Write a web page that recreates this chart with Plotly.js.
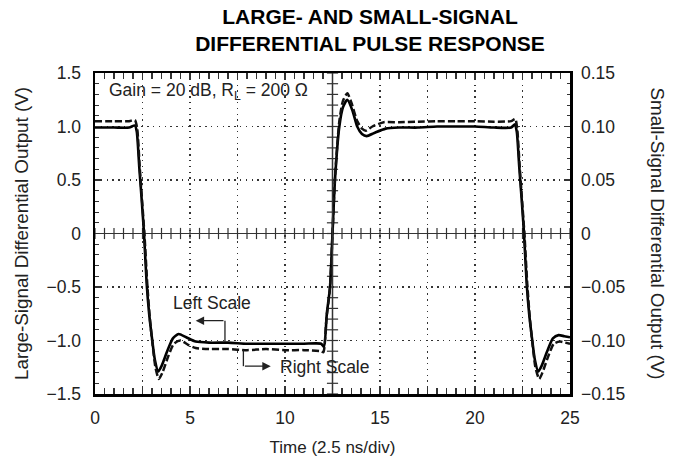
<!DOCTYPE html>
<html>
<head>
<meta charset="utf-8">
<script src="https://cdn.plot.ly/plotly-3.0.1.min.js"></script>
<style>html,body{margin:0;padding:0;background:#fff;}#chart{width:674px;height:460px;}</style>
</head>
<body>
<div id="chart"></div>
<script>
// Large-signal output (left scale, V)
const timeLarge = [0, 1, 1.8, 2.1, 2.2, 2.33, 2.46, 2.58, 2.72, 2.85, 2.98, 3.15, 3.33, 3.5, 3.8, 4.1, 4.4, 4.8, 5.3, 6, 7, 8, 9, 10, 11, 11.9, 12.05, 12.2, 12.37, 12.5, 12.63, 12.86, 13.05, 13.28, 13.55, 13.8, 14.05, 14.3, 14.7, 15.3, 16, 17, 18, 19, 20, 21, 21.9, 22.1, 22.2, 22.33, 22.46, 22.58, 22.72, 22.85, 22.98, 23.15, 23.33, 23.5, 23.8, 24.1, 24.4, 24.7, 25];
const largeSignal = [0.99, 0.99, 0.99, 1.01, 0.95, 0.62, 0.31, 0.0, -0.47, -0.75, -0.95, -1.18, -1.29, -1.24, -1.1, -0.98, -0.94, -0.97, -1.01, -1.02, -1.02, -1.03, -1.03, -1.03, -1.03, -1.03, -1.06, -0.75, -0.5, 0.0, 0.5, 1.0, 1.18, 1.25, 1.15, 1.0, 0.93, 0.91, 0.94, 0.98, 0.99, 0.99, 1.0, 1.0, 1.0, 0.99, 0.99, 1.02, 0.95, 0.62, 0.31, 0.0, -0.47, -0.75, -0.95, -1.18, -1.29, -1.24, -1.1, -0.98, -0.95, -0.96, -0.97];

// Small-signal output (right scale, V)
const timeSmall = [0, 1, 1.8, 2.1, 2.22, 2.35, 2.48, 2.6, 2.75, 2.88, 3.02, 3.18, 3.36, 3.55, 3.85, 4.15, 4.5, 4.9, 5.3, 6, 7, 8, 9, 10, 11, 11.9, 12.02, 12.18, 12.36, 12.5, 12.63, 12.86, 13.05, 13.28, 13.5, 13.8, 14.05, 14.26, 14.6, 15.2, 16, 17, 18, 19, 20, 21, 21.9, 22.12, 22.22, 22.35, 22.48, 22.6, 22.75, 22.88, 23.02, 23.18, 23.38, 23.55, 23.85, 24.15, 24.47, 24.75, 25];
const smallSignal = [0.105, 0.105, 0.105, 0.106, 0.098, 0.063, 0.030, 0.0, -0.047, -0.078, -0.102, -0.125, -0.136, -0.130, -0.115, -0.103, -0.100, -0.104, -0.107, -0.108, -0.108, -0.109, -0.108, -0.109, -0.109, -0.110, -0.111, -0.080, -0.052, 0.0, 0.052, 0.105, 0.124, 0.131, 0.122, 0.105, 0.098, 0.096, 0.100, 0.104, 0.104, 0.1045, 0.105, 0.105, 0.105, 0.1045, 0.105, 0.107, 0.098, 0.063, 0.030, 0.0, -0.047, -0.078, -0.102, -0.125, -0.136, -0.130, -0.115, -0.103, -0.101, -0.102, -0.103];

// Tick labels
const xTickVals = [0, 2.5, 5, 7.5, 10, 12.5, 15, 17.5, 20, 22.5, 25];
const xTickText = ['0', '', '5', '', '10', '', '15', '', '20', '', '25'];
const yLeftVals = [-1.5, -1.0, -0.5, 0, 0.5, 1.0, 1.5];
const yLeftText = ['\u22121.5', '\u22121.0', '\u22120.5', '0', '0.5', '1.0', '1.5'];
const yRightVals = [-0.15, -0.10, -0.05, 0, 0.05, 0.10, 0.15];
const yRightText = ['\u22120.15', '\u22120.10', '\u22120.05', '0', '0.05', '0.10', '0.15'];

// Cross-hair tick marks along the centre lines
const hTickX = [], hTickY = [];
for (let i = 0; i <= 50; i++) { hTickX.push(i * 0.5); hTickY.push(0); }
const vTickX = [], vTickY = [];
for (let j = -15; j <= 15; j++) { vTickX.push(12.5); vTickY.push(j / 10); }

const FONT = 'Liberation Sans, Arial, Helvetica, sans-serif';
const TXT = '#222';
const FS = 17.5;

const traces = [
  {x: hTickX, y: hTickY, mode: 'markers', type: 'scatter', hoverinfo: 'skip', showlegend: false,
   marker: {symbol: 'line-ns', size: 8, line: {color: '#333', width: 1.2}}},
  {x: vTickX, y: vTickY, mode: 'markers', type: 'scatter', hoverinfo: 'skip', showlegend: false,
   marker: {symbol: 'line-ew', size: 8, line: {color: '#333', width: 1.2}}},
  {x: timeSmall, y: smallSignal, yaxis: 'y2', mode: 'lines', type: 'scatter', name: 'Small-Signal',
   line: {color: '#111', width: 2.5, dash: '7px,3px', shape: 'spline', smoothing: 0.6}},
  {x: timeLarge, y: largeSignal, mode: 'lines', type: 'scatter', name: 'Large-Signal',
   line: {color: '#000', width: 2.6, shape: 'spline', smoothing: 0.6}}
];

const axisCommon = {
  showline: true, linecolor: '#000', linewidth: 2.5,
  ticks: 'inside', ticklen: 6, tickwidth: 1.2, tickcolor: '#333',
  showgrid: true, gridcolor: '#333', gridwidth: 1.3, griddash: '1.3px,4.5px',
  tickfont: {family: FONT, size: FS, color: TXT},
  fixedrange: true
};

const layout = {
  width: 674, height: 460,
  margin: {l: 95, r: 104, t: 73, b: 66},
  paper_bgcolor: '#fff', plot_bgcolor: '#fff',
  showlegend: false,
  font: {family: FONT, color: TXT},
  title: {
    text: '<b>LARGE- AND SMALL-SIGNAL<br>DIFFERENTIAL PULSE RESPONSE</b>',
    font: {family: FONT, size: 21, color: '#000'},
    xref: 'container', x: 370 / 674, xanchor: 'center',
    yref: 'container', y: 1 - 24 / 460, yanchor: 'top'
  },
  xaxis: Object.assign({}, axisCommon, {
    range: [0, 25], tickmode: 'array', tickvals: xTickVals, ticktext: xTickText,
    mirror: 'allticks', zeroline: false,
    minor: {dtick: 0.5, ticks: 'inside', ticklen: 3.5, tickwidth: 1.1, tickcolor: '#333', showgrid: false},
    ticklabelstandoff: 6,
    title: {text: 'Time (2.5 ns/div)', font: {family: FONT, size: 17, color: TXT}, standoff: 15}
  }),
  yaxis: Object.assign({}, axisCommon, {
    range: [-1.5, 1.5], tickmode: 'array', tickvals: yLeftVals, ticktext: yLeftText,
    mirror: 'allticks', zeroline: true, zerolinecolor: '#333', zerolinewidth: 1.5,
    minor: {dtick: 0.1, ticks: 'inside', ticklen: 3.5, tickwidth: 1.1, tickcolor: '#333', showgrid: false},
    ticklabelstandoff: 8,
    title: {text: 'Large-Signal Differential Output (V)', font: {family: FONT, size: 18.8, color: TXT}, standoff: 13}
  }),
  yaxis2: {
    overlaying: 'y', side: 'right', range: [-0.15, 0.15],
    tickmode: 'array', tickvals: yRightVals, ticktext: yRightText,
    ticks: '', showgrid: false, zeroline: false, showline: false,
    tickfont: {family: FONT, size: FS, color: TXT},
    ticklabelstandoff: 10, fixedrange: true
  },
  shapes: [
    {type: 'line', xref: 'x', yref: 'paper', x0: 12.5, x1: 12.5, y0: 0, y1: 1, line: {color: '#333', width: 1.5}},
    {type: 'line', xref: 'x', yref: 'y', x0: 6.84, x1: 6.84, y0: -1.01, y1: -0.815, line: {color: '#222', width: 1.3}},
    {type: 'line', xref: 'x', yref: 'y', x0: 7.81, x1: 7.81, y0: -1.09, y1: -1.24, line: {color: '#222', width: 1.3}}
  ],
  annotations: [
    {xref: 'x', yref: 'y', x: 0.62, y: 1.33, xanchor: 'left', yanchor: 'middle', showarrow: false,
     text: 'Gain = 20 dB, R<sub>L</sub> = 200 \u03A9', font: {family: FONT, size: FS, color: TXT}},
    {xref: 'x', yref: 'y', x: 6.18, y: -0.645, showarrow: false, text: 'Left Scale',
     font: {family: FONT, size: FS, color: TXT}},
    {xref: 'x', yref: 'y', x: 12.12, y: -1.245, showarrow: false, text: 'Right Scale',
     font: {family: FONT, size: FS, color: TXT}},
    {xref: 'x', yref: 'y', x: 5.3, y: -0.815, axref: 'x', ayref: 'y', ax: 6.84, ay: -0.815,
     showarrow: true, text: '', arrowhead: 2, arrowsize: 1.3, arrowwidth: 1.3, arrowcolor: '#222', standoff: 0},
    {xref: 'x', yref: 'y', x: 9.25, y: -1.24, axref: 'x', ayref: 'y', ax: 7.81, ay: -1.24,
     showarrow: true, text: '', arrowhead: 2, arrowsize: 1.3, arrowwidth: 1.3, arrowcolor: '#222', standoff: 0},
    {xref: 'paper', yref: 'paper', x: 1 + (657 - 570) / 475, y: 0.5, xanchor: 'center', yanchor: 'middle',
     showarrow: false, textangle: 90, text: 'Small-Signal Differential Output (V)',
     font: {family: FONT, size: 18.8, color: TXT}}
  ]
};

Plotly.newPlot('chart', traces, layout, {displayModeBar: false, staticPlot: true});
</script>
</body>
</html>
